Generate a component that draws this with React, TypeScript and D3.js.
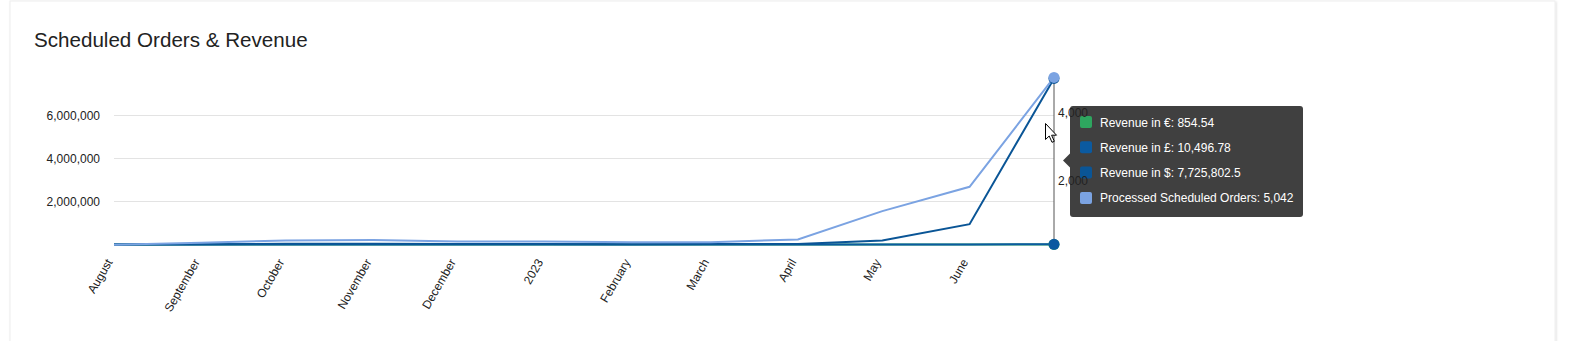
import React from "react";
import * as d3 from "d3";

// ---- data ----
const months = [
  "2022-08-01", "2022-09-01", "2022-10-01", "2022-11-01", "2022-12-01", "2023-01-01",
  "2023-02-01", "2023-03-01", "2023-04-01", "2023-05-01", "2023-06-01", "2023-07-01",
];
const revenueEUR = [0, 0, 120, 200, 150, 180, 90, 110, 150, 300, 500, 854.54];
const revenueGBP = [0, 500, 1500, 2000, 1200, 1500, 900, 1100, 2000, 3500, 5000, 10496.78];
const revenueUSD = [5000, 15000, 35000, 40000, 25000, 25000, 15000, 18000, 25000, 186000, 944000, 7725802.5];
const processedOrders = [130, 190, 260, 270, 230, 230, 210, 210, 290, 1120, 1833, 5042];

const xTickDates = [
  "2022-08-01", "2022-09-01", "2022-10-01", "2022-11-01", "2022-12-01", "2023-01-01",
  "2023-02-01", "2023-03-01", "2023-04-01", "2023-05-01", "2023-06-01",
];
const xTickLabels = [
  "August", "September", "October", "November", "December", "2023",
  "February", "March", "April", "May", "June",
];
const leftTicks = [2000000, 4000000, 6000000];
const rightTicks = [2000, 4000];

const seriesNames = ["Revenue in €", "Revenue in £", "Revenue in $", "Processed Scheduled Orders"];
const tooltipValues = ["854.54", "10,496.78", "7,725,802.5", "5,042"];

const COLORS = ["#2ea65f", "#0b5aa0", "#0a5596", "#7ba3e2"];
const FONT = "Arial, 'Liberation Sans', sans-serif";

export default function App() {
  const W = 1581, H = 341;
  const parse = d3.timeParse("%Y-%m-%d");
  const dates = months.map((m) => parse(m) as Date);
  const x = d3.scaleTime().domain([dates[0], dates[dates.length - 1]]).range([114, 1054]);
  const yL = d3.scaleLinear().domain([0, 8000000]).range([244.5, 72.5]);
  const yR = d3.scaleLinear().domain([0, 6000]).range([249.3, 44.8]);

  const lineL = d3.line<number>().x((_, i) => x(dates[i])).y((v) => yL(v));
  const lineR = d3.line<number>().x((_, i) => x(dates[i])).y((v) => yR(v));
  const fmt = d3.format(",");
  const last = dates.length - 1;
  const lx = x(dates[last]);

  const tipX = 1070, tipY = 106, tipW = 233, tipH = 111;
  const tipRowY = (i: number) => 122 + i * 25.3;

  return (
    <div style={{ position: "fixed", left: 0, top: 0, width: W, height: H, background: "#fff" }}>
      <svg width={W} height={H} style={{ display: "block" }}>
        <defs>
          <filter id="sh" x="-2%" y="-5%" width="104%" height="110%">
            <feDropShadow dx="1" dy="1" stdDeviation="1.2" floodColor="#000" floodOpacity="0.12" />
          </filter>
        </defs>
        <rect x={10} y={1} width={1545} height={380} fill="#fff" stroke="#eeeeee" strokeWidth={1} filter="url(#sh)" />
        <text x={34} y={47} fontFamily={FONT} fontSize={20.6} fill="#222">Scheduled Orders &amp; Revenue</text>

        {/* gridlines */}
        {leftTicks.map((t) => (
          <g key={t}>
            <line x1={114} x2={1054} y1={yL(t)} y2={yL(t)} stroke="#e3e3e3" strokeWidth={1} />
            <text x={100} y={yL(t) + 4} textAnchor="end" fontFamily={FONT} fontSize={12} fill="#222">{fmt(t)}</text>
          </g>
        ))}
        <line x1={114} x2={1054} y1={yL(0)} y2={yL(0)} stroke="#333" strokeWidth={1} />

        {/* x labels */}
        {xTickDates.map((d, i) => {
          const tx = x(parse(d) as Date);
          return (
            <text key={d} transform={`translate(${tx - 1},${262}) rotate(-60)`} textAnchor="end"
              fontFamily={FONT} fontSize={12} fill="#222">{xTickLabels[i]}</text>
          );
        })}

        {/* lines */}
        <path d={lineL(revenueEUR) || ""} fill="none" stroke={COLORS[0]} strokeWidth={2} />
        <path d={lineL(revenueGBP) || ""} fill="none" stroke={COLORS[1]} strokeWidth={2} />
        <path d={lineL(revenueUSD) || ""} fill="none" stroke={COLORS[2]} strokeWidth={2} />
        <path d={lineR(processedOrders) || ""} fill="none" stroke={COLORS[3]} strokeWidth={2} />

        {/* crosshair */}
        <line x1={lx} x2={lx} y1={yR(processedOrders[last])} y2={yL(0)} stroke="#555" strokeWidth={1} />

        {/* focus dots */}
        <circle cx={lx} cy={yL(revenueEUR[last])} r={5.5} fill={COLORS[0]} />
        <circle cx={lx} cy={yL(revenueGBP[last])} r={5.5} fill={COLORS[1]} />
        <circle cx={lx} cy={yL(revenueUSD[last])} r={5.5} fill={COLORS[2]} />
        <circle cx={lx} cy={yR(processedOrders[last])} r={5.5} fill={COLORS[3]} />

        {/* tooltip */}
        <g>
          <path d={`M${tipX},${160.5 - 7} L${tipX - 7},160.5 L${tipX},${160.5 + 7} Z`} fill="#404040" />
          <rect x={tipX} y={tipY} width={tipW} height={tipH} rx={3} fill="#404040" />
          {seriesNames.map((n, i) => (
            <g key={n}>
              <rect x={tipX + 10} y={tipRowY(i) - 6} width={12} height={12} rx={2} fill={COLORS[i]} />
              <text x={tipX + 30} y={tipRowY(i) + 4.5} fontFamily={FONT} fontSize={12} fill="#fff">
                {`${n}: ${tooltipValues[i]}`}
              </text>
            </g>
          ))}
        </g>

        {/* right axis labels (drawn above the tooltip as in the original) */}
        {rightTicks.map((t) => (
          <text key={t} x={1058} y={yR(t) + 4} fontFamily={FONT} fontSize={12} fill="#222">{fmt(t)}</text>
        ))}

        {/* mouse cursor */}
        <path d="M1045.5,123.5 L1045.5,139.5 L1049.2,136 L1052,142.3 L1054.3,141.3 L1051.6,135.2 L1056.5,135.2 Z"
          fill="#fff" stroke="#000" strokeWidth={1} strokeLinejoin="miter" />
      </svg>
    </div>
  );
}
